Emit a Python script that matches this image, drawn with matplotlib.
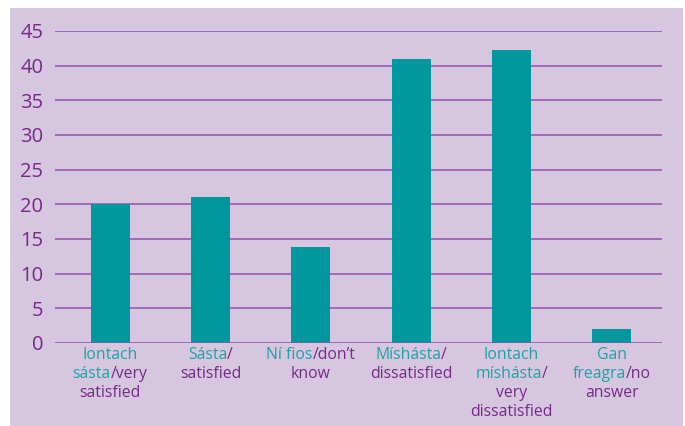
import matplotlib
matplotlib.use("Agg")
import matplotlib.pyplot as plt
from matplotlib.patches import Rectangle
from matplotlib.offsetbox import TextArea, HPacker, VPacker, AnnotationBbox

# ── Data ──────────────────────────────────────────────────────────────────────
values = [20, 21, 13.8, 41, 42.2, 2]
# each label: list of lines, each line a list of (text, is_irish)
labels = [
    [[("Iontach", True)], [("sásta", True), ("/very", False)], [("satisfied", False)]],
    [[("Sásta", True), ("/", False)], [("satisfied", False)]],
    [[("Ní fios", True), ("/don’t", False)], [("know", False)]],
    [[("Míshásta", True), ("/", False)], [("dissatisfied", False)]],
    [[("Iontach", True)], [("míshásta", True), ("/", False)], [("very", False)], [("dissatisfied", False)]],
    [[("Gan", True)], [("freagra", True), ("/no", False)], [("answer", False)]],
]
yticks = [0, 5, 10, 15, 20, 25, 30, 35, 40, 45]

# ── Style ─────────────────────────────────────────────────────────────────────
BG     = "#d6c6e0"
BAR    = "#00979e"
TEAL   = "#1ea2a8"
PURPLE = "#762a88"
GRID   = "#8d52a8"
FONT   = "Open Sans"

W, H = 685, 426
fig = plt.figure(figsize=(W / 100, H / 100), dpi=100)
fig.patch.set_facecolor("white")
fig.add_artist(Rectangle((10 / W, 0), (683 - 10) / W, (426 - 8) / H,
                         transform=fig.transFigure, facecolor=BG,
                         edgecolor="none", zorder=-10))

ax = fig.add_axes([55 / W, (H - 343) / H, (662 - 55) / W, (343 - 31) / H])
ax.set_facecolor("none")

x = list(range(len(values)))
ax.bar(x, values, width=0.39, color=BAR, zorder=3)

ax.set_xlim(-0.55, 5.5)
ax.set_ylim(0, 45)
ax.set_yticks(yticks)
ax.set_yticklabels([str(t) for t in yticks], fontsize=14.5, color=PURPLE,
                   family=FONT)
ax.tick_params(axis="y", length=0, pad=8.5)
ax.set_xticks([])
for t in yticks:
    ax.axhline(t, color=GRID, lw=1.1, zorder=2 if t > 0 else 4)
for sp in ax.spines.values():
    sp.set_visible(False)

# two-colour category labels
for i, lab in enumerate(labels):
    lines = []
    for line in lab:
        parts = [TextArea(txt, textprops=dict(color=TEAL if irish else PURPLE,
                                              fontsize=11.3, family=FONT))
                 for txt, irish in line]
        lines.append(HPacker(children=parts, pad=0, sep=0, align="baseline"))
    box = VPacker(children=lines, pad=0, sep=2.2, align="center")
    ab = AnnotationBbox(box, (i, 0), xycoords=("data", "axes fraction"),
                        xybox=(0, -3), boxcoords="offset points",
                        box_alignment=(0.5, 1), frameon=False, pad=0)
    ax.add_artist(ab)

fig.savefig("out.png", dpi=100, facecolor=fig.get_facecolor())
